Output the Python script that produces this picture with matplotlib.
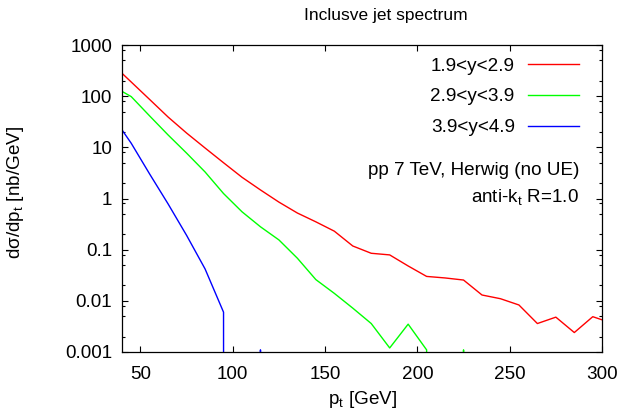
import numpy as np
import matplotlib
matplotlib.use("Agg")
import matplotlib.pyplot as plt
from matplotlib.ticker import LogLocator, FixedLocator, NullFormatter

plt.rcParams['font.family'] = ['Liberation Sans', 'DejaVu Sans']
plt.rcParams['mathtext.fontset'] = 'custom'
plt.rcParams['mathtext.rm'] = 'Liberation Sans'
plt.rcParams['mathtext.it'] = 'Liberation Sans:italic'

# bin centres in GeV (points below 40 and above 300 get clipped by the axes)
pt = [35, 45, 55, 65, 75, 85, 95, 105, 115, 125, 135, 145, 155, 165,
      175, 185, 195, 205, 215, 225, 235, 245, 255, 265, 275, 285, 295, 305]

# dsigma/dpt [nb/GeV] per rapidity bin, zero = empty bin
y19_29 = [415, 189, 86, 39, 19, 9.7, 5.0, 2.6, 1.47, 0.85, 0.52, 0.35, 0.23, 0.118,
          0.085, 0.079, 0.048, 0.030, 0.028, 0.0255, 0.013, 0.011, 0.0083, 0.0036,
          0.0048, 0.0024, 0.0049, 0.0037]
y29_39 = [157, 98, 41, 17.4, 7.7, 3.3, 1.25, 0.55, 0.28, 0.155, 0.068, 0.026, 0.014, 0.0072,
          0.0036, 0.0012, 0.0035, 0.0011, 0, 0.0011, 0, 0, 0, 0,
          0, 0, 0, 0]
y39_49 = [40, 12, 3.0, 0.78, 0.19, 0.042, 0.006, 0, 0.0011, 0, 0, 0, 0, 0,
          0, 0, 0, 0, 0, 0, 0, 0, 0, 0,
          0, 0, 0, 0]

labels = ['1.9<y<2.9', '2.9<y<3.9', '3.9<y<4.9']
colors = ['#ff0000', '#00ff00', '#0000ff']

fs = 13.6

fig = plt.figure(figsize=(6.36, 4.12), dpi=100)
ax = fig.add_axes([122 / 636, 60 / 412, 480 / 636, 307 / 412])

for vals, lab, col in zip([y19_29, y29_39, y39_49], labels, colors):
    ax.plot(pt, vals, color=col, lw=1.0, label=lab)

ax.set_yscale('log', nonpositive='clip')
ax.set_xlim(40, 300)
ax.set_ylim(0.001, 1000)

ax.xaxis.set_major_locator(FixedLocator([50, 100, 150, 200, 250, 300]))
ax.yaxis.set_minor_locator(LogLocator(base=10, subs=(2, 5, 8), numticks=10))
ax.yaxis.set_minor_formatter(NullFormatter())
ax.set_yticks([0.001, 0.01, 0.1, 1, 10, 100, 1000])
ax.set_yticklabels(['0.001', '0.01', '0.1', '1', '10', '100', '1000'])

ax.tick_params(which='both', direction='in', top=True, right=True, labelsize=fs)
ax.tick_params(which='major', length=4.5, width=0.8)
ax.tick_params(which='minor', length=2.3, width=0.8)
ax.tick_params(axis='x', pad=10)
ax.tick_params(axis='y', pad=7)
for s in ax.spines.values():
    s.set_linewidth(0.9)

ax.set_title('Inclusve jet spectrum', fontsize=12.5, pad=18, x=0.55)
ax.set_xlabel(r'p$_{\mathrm{t}}$ [GeV]', fontsize=fs)
ax.set_ylabel(r'dσ/dp$_{\mathrm{t}}$ [nb/GeV]', fontsize=fs)
ax.xaxis.set_label_coords(0.5, -0.12)
ax.yaxis.set_label_coords(-0.2, 0.52)

ax.legend(loc='upper right', bbox_to_anchor=(0.952, 0.96), markerfirst=False,
          frameon=False, fontsize=fs, handlelength=2.7, handletextpad=0.7,
          labelspacing=0.72, borderpad=0, borderaxespad=0)

ax.text(0.952, 0.59, 'pp 7 TeV, Herwig (no UE)', transform=ax.transAxes,
        ha='right', va='center', fontsize=fs)
ax.text(0.952, 0.505, r'anti-k$_{\mathrm{t}}$ R=1.0', transform=ax.transAxes,
        ha='right', va='center', fontsize=fs)

fig.savefig('out.png', dpi=100)
